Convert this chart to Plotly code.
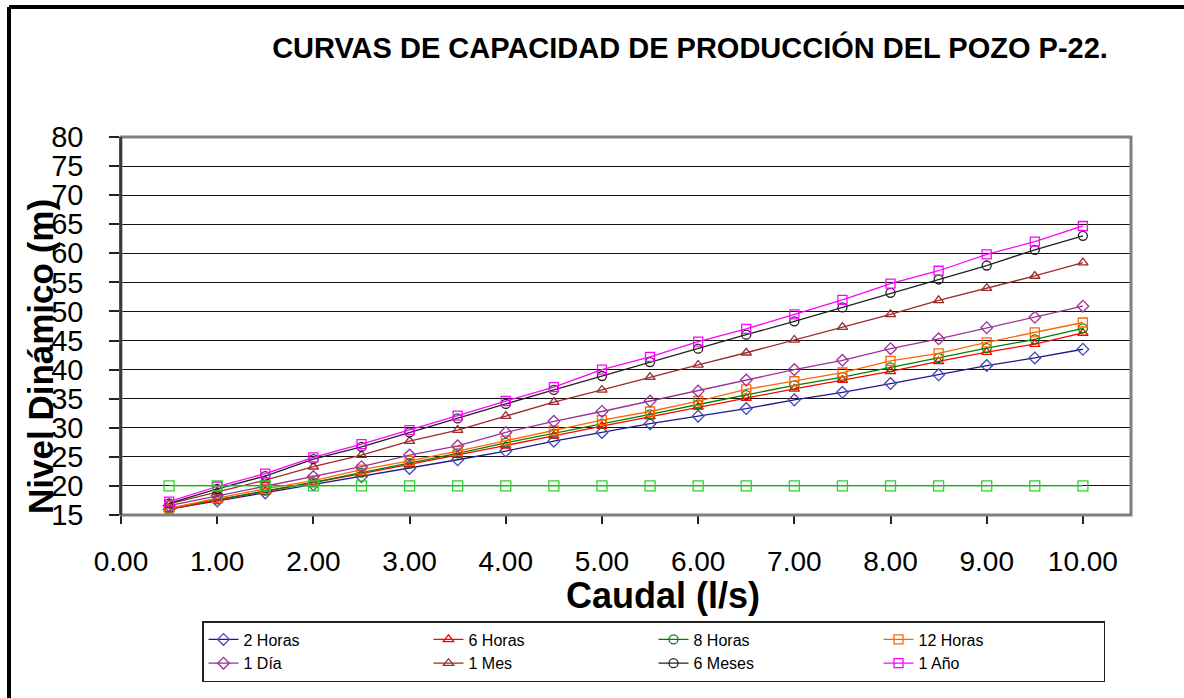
"""
Curvas de capacidad de producción del pozo P-22.
"""

import plotly.graph_objects as go

# Caudal (l/s)
caudal = [0.5, 1.0, 1.5, 2.0, 2.5, 3.0, 3.5, 4.0, 4.5, 5.0,
          5.5, 6.0, 6.5, 7.0, 7.5, 8.0, 8.5, 9.0, 9.5, 10.0]

# Nivel dinámico (m) per pumping duration
horas_2 = [16.0, 17.4, 18.8, 20.2, 21.6, 23.0, 24.5, 26.0, 27.7, 29.2,
           30.7, 32.0, 33.3, 34.8, 36.1, 37.6, 39.1, 40.7, 42.0, 43.5]
horas_6 = [16.0, 17.5, 19.0, 20.5, 22.1, 23.7, 25.3, 26.9, 28.6, 30.3,
           31.9, 33.6, 35.1, 36.7, 38.2, 39.7, 41.4, 43.0, 44.4, 46.3]
horas_8 = [16.2, 17.7, 19.2, 20.6, 22.3, 23.9, 25.6, 27.4, 29.0, 30.7,
           32.3, 34.0, 35.6, 37.3, 38.7, 40.4, 42.0, 43.7, 45.2, 47.1]
horas_12 = [16.1, 17.9, 19.5, 20.9, 22.8, 24.3, 26.0, 27.8, 29.5, 31.3,
            32.8, 34.6, 36.6, 38.0, 39.5, 41.5, 42.8, 44.7, 46.4, 48.1]
dia_1 = [16.6, 18.3, 19.9, 21.6, 23.3, 25.3, 26.9, 29.2, 31.1, 32.8,
         34.6, 36.3, 38.2, 40.0, 41.6, 43.6, 45.3, 47.2, 49.0, 50.9]
mes_1 = [16.9, 19.0, 21.0, 23.3, 25.3, 27.7, 29.6, 32.0, 34.4, 36.5,
         38.7, 40.8, 42.9, 45.1, 47.3, 49.5, 51.9, 54.0, 56.1, 58.4]
meses_6 = [17.0, 19.5, 21.7, 24.6, 26.7, 29.2, 31.6, 34.1, 36.5, 38.9,
           41.3, 43.6, 46.0, 48.3, 50.7, 53.2, 55.5, 57.9, 60.6, 63.0]
anio_1 = [17.3, 19.9, 22.1, 24.9, 27.2, 29.6, 32.1, 34.6, 37.0, 40.0,
          42.2, 44.8, 47.0, 49.5, 52.0, 54.8, 57.0, 59.8, 62.0, 64.7]
# Pump setting level (not in legend)
nivel_bomba = [20.0] * 20

y_ticks = list(range(15, 85, 5))
x_ticks = list(range(0, 11))

series = [
    ('2 Horas', horas_2, '#1a1a8c', '#4646b4', 'diamond-open'),
    ('6 Horas', horas_6, '#ff0000', '#ff0000', 'triangle-up-open'),
    ('8 Horas', horas_8, '#008000', '#008000', 'circle-open'),
    ('12 Horas', horas_12, '#ff6600', '#ff6600', 'square-open'),
    ('1 Día', dia_1, '#993399', '#993399', 'diamond-open'),
    ('1 Mes', mes_1, '#9c2a2a', '#9c2a2a', 'triangle-up-open'),
    ('6 Meses', meses_6, '#222222', '#222222', 'circle-open'),
    ('1 Año', anio_1, '#ff00ff', '#ff00ff', 'square-open'),
]

FONT = 'Liberation Sans, Arial, sans-serif'
W, H = 1184, 698
L, R, T, B = 121, 1131, 137, 515  # plot area in pixels


def px_x(p):
    return (p - L) / (R - L)


def px_y(p):
    return (B - p) / (B - T)


fig = go.Figure()

for name, vals, line_c, mark_c, sym in series:
    fig.add_trace(go.Scatter(
        x=caudal, y=vals, name=name, mode='lines+markers',
        line=dict(color=line_c, width=1.3),
        marker=dict(symbol=sym, size=9, color=mark_c,
                    line=dict(color=mark_c, width=1.3)),
    ))

fig.add_trace(go.Scatter(
    x=caudal, y=nivel_bomba, mode='lines+markers', showlegend=False,
    line=dict(color='#33cc33', width=1.3),
    marker=dict(symbol='square-open', size=10, color='#33cc33',
                line=dict(color='#33cc33', width=1.3)),
))

fig.update_layout(
    width=W, height=H,
    margin=dict(l=L, r=W - R, t=T, b=H - B, pad=0),
    paper_bgcolor='white', plot_bgcolor='white',
    font=dict(family=FONT, color='black'),
    title=dict(text='<b>CURVAS DE CAPACIDAD DE PRODUCCIÓN DEL POZO P-22.</b>',
               font=dict(size=29, family=FONT),
               x=690 / W, xref='container', xanchor='center',
               y=1 - 48 / H, yref='container', yanchor='middle'),
    xaxis=dict(range=[0, 10.5], tickvals=x_ticks, tickformat='.2f',
               showgrid=False, zeroline=False,
               ticks='outside', ticklen=8, tickwidth=1.5, tickcolor='#222',
               tickfont=dict(size=28), ticklabelstandoff=13,
               showline=False),
    yaxis=dict(range=[15, 80], tickvals=y_ticks,
               showgrid=True, gridcolor='#111', gridwidth=1.4,
               zeroline=False,
               ticks='outside', ticklen=10, tickwidth=1.5, tickcolor='#222',
               tickfont=dict(size=29), ticklabelstandoff=20,
               showline=True, linecolor='#222', linewidth=1.5),
    legend=dict(orientation='h', xref='container', yref='container',
                x=202 / W, xanchor='left', y=1 - 621 / H, yanchor='top',
                entrywidth=180, entrywidthmode='pixels',
                font=dict(size=16, family=FONT),
                bordercolor='#222', borderwidth=1.5, bgcolor='white',
                traceorder='normal'),
    showlegend=True,
)

# axis titles placed as annotations
fig.add_annotation(text='<b>Nivel Dinámico (m)</b>', textangle=-90,
                   xref='paper', yref='paper', x=px_x(40), y=px_y(357),
                   xanchor='center', yanchor='middle', showarrow=False,
                   font=dict(size=35, family=FONT))
fig.add_annotation(text='<b>Caudal (l/s)</b>',
                   xref='paper', yref='paper', x=px_x(663), y=px_y(595),
                   xanchor='center', yanchor='middle', showarrow=False,
                   font=dict(size=36, family=FONT))

# plot area frame (grey) and outer chart border (black, top and left)
fig.add_shape(type='rect', xref='paper', yref='paper', x0=0, y0=0, x1=1, y1=1,
              line=dict(color='#808080', width=3), layer='above')
fig.add_shape(type='line', xref='paper', yref='paper', x0=0, y0=0, x1=0, y1=1,
              line=dict(color='#222', width=1.5), layer='above')
fig.add_shape(type='line', xref='paper', yref='paper',
              x0=px_x(9), y0=px_y(7), x1=px_x(W + 5), y1=px_y(7),
              line=dict(color='black', width=4))
fig.add_shape(type='line', xref='paper', yref='paper',
              x0=px_x(9), y0=px_y(7), x1=px_x(9), y1=px_y(H + 5),
              line=dict(color='black', width=4))

# drop the default page margin so the figure sits at the window origin
fig.write_html('out.html', config={'displayModeBar': False},
               post_script="document.body.style.margin = '0';")
